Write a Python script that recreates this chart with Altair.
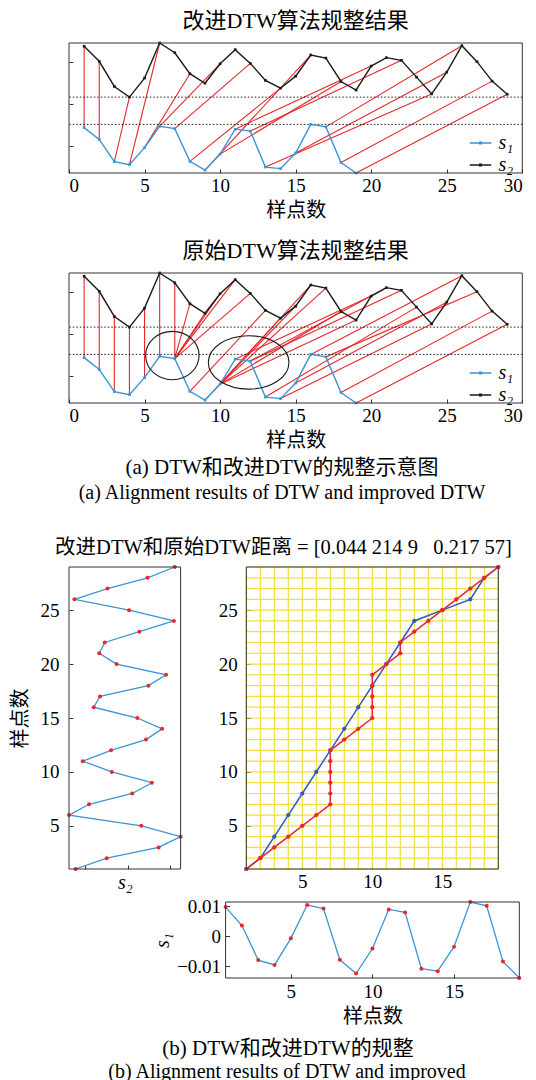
import altair as alt
import pandas as pd

# ---------------- data ----------------
S1 = [0.0098, 0.0036, -0.0080, -0.0096, -0.0007, 0.0105, 0.0093, -0.0079, -0.0125, -0.0041,
      0.0090, 0.0080, -0.0109, -0.0117, -0.0035, 0.0115, 0.0102, -0.0085, -0.0140]
S2 = [0.0132, 0.0053, -0.0079, -0.0135, -0.0035, 0.0149, 0.0098, -0.0012, -0.0062, 0.0040,
      0.0114, 0.0042, -0.0047, -0.0088, -0.0025, 0.0086, 0.0070, -0.0053, -0.0098, 0.0028,
      0.0072, 0.0058, -0.0030, -0.0118, -0.0004, 0.0135, 0.0051, -0.0051, -0.0120]
IMPROVED_I = [1, 2, 3, 4, 5, 6, 7, 8, 9, 10, 11, 12, 13, 15, 17, 18, 19]
IMPROVED_J = [1, 2, 4, 6, 8, 10, 12, 14, 16, 18, 20, 22, 24, 25, 26, 28, 29]
ORIGINAL_I = [1, 2, 3, 4, 5, 6, 7, 7, 7, 7, 7, 7, 8, 9, 10, 10, 10, 10, 10, 11, 12, 12,
              13, 14, 15, 16, 17, 18, 19]
ORIGINAL_J = list(range(1, 30))
S2_SHIFT = 0.0393
ELLIPSE_X = [6.84, 11.89]
ELLIPSE_Y = [0.0109, 0.0073]
TOP_X_TICKS = [0, 5, 10, 15, 20, 25, 30]
TOP_Y_TICKS = [0.0, 0.022, 0.044]
IDX_TICKS = [5, 10, 15, 20, 25]
S1_IDX_TICKS = [5, 10, 15]
S2_VAL_TICKS = [-0.0108, 0.0, 0.0108]
S1_VAL_TICKS = [-0.01, 0.0, 0.01]
SERIES = ["s\u2081", "s\u2082"]

TITLE_A1 = "改进DTW算法规整结果"
TITLE_A2 = "原始DTW算法规整结果"
CAPTION_A = ["(a)  DTW和改进DTW的规整示意图", "(a)  Alignment results of DTW and improved DTW"]
TITLE_B = "改进DTW和原始DTW距离 = [0.044 214 9\u2002 0.217 57]"
CAPTION_B = ["(b)  DTW和改进DTW的规整", "(b)  Alignment results of DTW and improved"]

# ---------------- styles ----------------
FONT = "Liberation Serif, Noto Sans CJK SC"
BLUE = "#3a95d5"
BLACK = "#1a1a1a"
RED = "#e8272b"
PATH_BLUE = "#2f55c6"
YELLOW = "#f1e03a"
FRAME = "#333333"

W_TOP, H_TOP = 453.3, 130
GAP_A = 99.8
H_CAPA = 163.7
W_ROWB, H_ROWB, W_LEFT, X_RIGHT0 = 429.3, 302, 111.6, 177.3
GAP_B = 33
W_BOT, H_BOT, X_BOT0 = 450.3, 76, 156.6
H_CAPB = 98

one = pd.DataFrame({"k": [0]})


def frame(x0, x1, h):
    return alt.Chart(one).mark_rect(fillOpacity=0, stroke=FRAME, strokeWidth=1).encode(
        x=alt.value(x0), x2=alt.value(x1), y=alt.value(0), y2=alt.value(h))


def spacer(h):
    return alt.Chart(one).mark_text(text=" ").encode(
        x=alt.value(0), y=alt.value(0)).properties(width=10, height=h)


# ---------------- (a) top panels ----------------
Y_LO = min(S1)
Y_HI = max(S2) + S2_SHIFT
series_df = pd.concat([
    pd.DataFrame({"idx": range(1, len(S1) + 1), "v": S1, "s": SERIES[0]}),
    pd.DataFrame({"idx": range(1, len(S2) + 1), "v": [v + S2_SHIFT for v in S2], "s": SERIES[1]}),
])
levels_df = pd.DataFrame({"lv": [max(S1), min(S2) + S2_SHIFT]})

LEG_SYMBOL = "M-1,0L1,0M-0.08,-0.08L0.08,-0.08L0.08,0.08L-0.08,0.08Z"


def top_panel(I, J, title, ellipses):
    xs = alt.Scale(domain=[0, 30], nice=False, zero=False)
    ys = alt.Scale(domain=[Y_LO, Y_HI], nice=False, zero=False)
    xax = alt.Axis(values=TOP_X_TICKS, title="样点数", orient="bottom", domain=False, grid=False,
                   tickSize=4, offset=-4, labelPadding=3, titlePadding=5)
    yax = alt.Axis(values=TOP_Y_TICKS, labels=False, title=None, orient="left", domain=False,
                   grid=False, tickSize=4, offset=-4)
    links = pd.DataFrame({"i": I, "j": J,
                          "yi": [S1[i - 1] for i in I],
                          "yj": [S2[j - 1] + S2_SHIFT for j in J]})
    color_scale = alt.Scale(domain=SERIES, range=[BLUE, BLACK])
    layers = [
        alt.Chart(links).mark_rule(color=RED, strokeWidth=1.1).encode(
            x=alt.X("i:Q", scale=xs, axis=xax), x2="j:Q",
            y=alt.Y("yi:Q", scale=ys, axis=yax), y2="yj:Q"),
        alt.Chart(levels_df).mark_rule(color=BLACK, strokeWidth=1, strokeDash=[1.5, 2]).encode(
            y=alt.Y("lv:Q", scale=ys, axis=yax)),
        alt.Chart(series_df).mark_line(strokeWidth=1.4).encode(
            x=alt.X("idx:Q", scale=xs, axis=xax),
            y=alt.Y("v:Q", scale=ys, axis=yax),
            color=alt.Color("s:N", scale=color_scale, legend=alt.Legend(
                title=None, orient="none", legendX=399.5, legendY=88, padding=0,
                symbolType=LEG_SYMBOL, symbolSize=467, symbolStrokeWidth=1.5,
                labelFont=FONT, labelFontSize=20, labelFontStyle="italic",
                labelColor="#000", labelOffset=6, rowPadding=0))),
        alt.Chart(series_df).mark_square(size=7, opacity=1).encode(
            x=alt.X("idx:Q", scale=xs, axis=xax),
            y=alt.Y("v:Q", scale=ys, axis=yax),
            color=alt.Color("s:N", scale=color_scale, legend=None)),
    ]
    if ellipses:
        for k, (rx, ry) in enumerate([(26.7, 24.2), (40.3, 26.7)]):
            r = ry / rx
            path = f"M-1,0A1,{r:.4f},0,1,1,1,0A1,{r:.4f},0,1,1,-1,0Z"
            edf = pd.DataFrame({"ex": [ELLIPSE_X[k]], "ey": [ELLIPSE_Y[k]]})
            layers.append(alt.Chart(edf).mark_point(
                shape=path, size=(2 * rx) ** 2, filled=False, opacity=1,
                stroke=BLACK, strokeWidth=1.1).encode(
                x=alt.X("ex:Q", scale=xs, axis=xax), y=alt.Y("ey:Q", scale=ys, axis=yax)))
    layers.append(frame(0, W_TOP, H_TOP))
    return alt.layer(*layers).properties(
        width=W_TOP, height=H_TOP,
        title=alt.TitleParams(title, anchor="middle", offset=7, font=FONT, fontSize=22,
                              fontWeight="normal", color="#000"))


panel1 = top_panel(IMPROVED_I, IMPROVED_J, TITLE_A1, False)
panel2 = top_panel(ORIGINAL_I, ORIGINAL_J, TITLE_A2, True)

# ---------------- caption (a) + title (b) ----------------
def text_layer(txt, x, y, size):
    return alt.Chart(pd.DataFrame({"t": [txt]})).mark_text(
        font=FONT, fontSize=size, align="center", baseline="middle", color="#000").encode(
        text="t:N", x=alt.value(x), y=alt.value(y))


cap_a = alt.layer(
    text_layer(CAPTION_A[0], 213, 64.7, 21),
    text_layer(CAPTION_A[1], 213, 89.7, 20),
    text_layer(TITLE_B, 214.5, 144.7, 20.5),
).properties(width=W_TOP, height=H_CAPA)

# ---------------- (b) warping-path row ----------------
s2_df = pd.DataFrame({"idx": range(1, len(S2) + 1), "v": S2})
s1_df = pd.DataFrame({"idx": range(1, len(S1) + 1), "v": S1})

yl = alt.Scale(domain=[1, len(S2)], nice=False, zero=False)
xl = alt.Scale(domain=[min(S2), max(S2)], reverse=True, nice=False, zero=False, range=[0, W_LEFT])
xl_ax = alt.Axis(values=S2_VAL_TICKS, labels=False, title=SERIES[1], titleFontStyle="italic",
                 orient="bottom", domain=False, grid=False, tickSize=4, offset=-4, titlePadding=3)
yl_ax = alt.Axis(values=IDX_TICKS, title="样点数", orient="left", domain=False, grid=False,
                 tickSize=4, offset=-4, labelPadding=10, titlePadding=10)
left_group = alt.layer(
    alt.Chart(s2_df).mark_line(color=BLUE, strokeWidth=1.3).encode(
        x=alt.X("v:Q", scale=xl, axis=xl_ax), y=alt.Y("idx:Q", scale=yl, axis=yl_ax),
        order="idx:Q"),
    alt.Chart(s2_df).mark_circle(color=RED, size=16, opacity=1).encode(
        x=alt.X("v:Q", scale=xl, axis=xl_ax), y=alt.Y("idx:Q", scale=yl, axis=yl_ax)),
)

xr = alt.Scale(domain=[1, len(S1)], nice=False, zero=False, range=[X_RIGHT0, W_ROWB])
yr = alt.Scale(domain=[1, len(S2)], nice=False, zero=False)
xr_ax = alt.Axis(values=S1_IDX_TICKS, title=None, orient="bottom", domain=False, grid=False,
                 tickSize=4, offset=-4, labelPadding=3)
yr_ax = alt.Axis(values=IDX_TICKS, title=None, orient="left", domain=False, grid=False,
                 tickSize=4, offset=-(X_RIGHT0 + 4), labelPadding=9)
grid_v = pd.DataFrame({"g": range(1, len(S1) + 1)})
grid_h = pd.DataFrame({"g": range(1, len(S2) + 1), "a": 1, "b": len(S1)})
imp_df = pd.DataFrame({"i": IMPROVED_I, "j": IMPROVED_J, "step": range(len(IMPROVED_I))})
org_df = pd.DataFrame({"i": ORIGINAL_I, "j": ORIGINAL_J, "step": range(len(ORIGINAL_I))})


def path_layers(df, color):
    return [
        alt.Chart(df).mark_line(color=color, strokeWidth=1.5).encode(
            x=alt.X("i:Q", scale=xr, axis=xr_ax), y=alt.Y("j:Q", scale=yr, axis=yr_ax),
            order="step:Q"),
        alt.Chart(df).mark_circle(color=color, size=18, opacity=1).encode(
            x=alt.X("i:Q", scale=xr, axis=xr_ax), y=alt.Y("j:Q", scale=yr, axis=yr_ax)),
    ]


right_group = alt.layer(
    alt.Chart(grid_v).mark_rule(color=YELLOW, strokeWidth=1.2).encode(
        x=alt.X("g:Q", scale=xr, axis=xr_ax)),
    alt.Chart(grid_h).mark_rule(color=YELLOW, strokeWidth=1.2).encode(
        y=alt.Y("g:Q", scale=yr, axis=yr_ax), x=alt.X("a:Q", scale=xr, axis=xr_ax), x2="b:Q"),
    *path_layers(imp_df, PATH_BLUE),
    *path_layers(org_df, RED),
)

row_b = alt.layer(
    left_group, right_group,
    frame(0, W_LEFT, H_ROWB), frame(X_RIGHT0, W_ROWB, H_ROWB),
).resolve_scale(x="independent", y="independent").properties(width=W_ROWB, height=H_ROWB)

# ---------------- (b) bottom s1 panel ----------------
xb = alt.Scale(domain=[1, len(S1)], nice=False, zero=False, range=[X_BOT0, W_BOT])
yb = alt.Scale(domain=[min(S1), max(S1)], nice=False, zero=False)
xb_ax = alt.Axis(values=S1_IDX_TICKS, title="样点数", orient="bottom", domain=False, grid=False,
                 tickSize=4, offset=-4, labelPadding=4, titlePadding=5)
yb_ax = alt.Axis(values=S1_VAL_TICKS, format=".2~f", title=SERIES[0], titleFontStyle="italic",
                 orient="left", domain=False, grid=False, tickSize=4, offset=-(X_BOT0 + 4),
                 labelPadding=5, titlePadding=4)
row_bot = alt.layer(
    alt.Chart(s1_df).mark_line(color=BLUE, strokeWidth=1.3).encode(
        x=alt.X("idx:Q", scale=xb, axis=xb_ax), y=alt.Y("v:Q", scale=yb, axis=yb_ax)),
    alt.Chart(s1_df).mark_circle(color=RED, size=16, opacity=1).encode(
        x=alt.X("idx:Q", scale=xb, axis=xb_ax), y=alt.Y("v:Q", scale=yb, axis=yb_ax)),
    frame(X_BOT0, W_BOT, H_BOT),
).properties(width=W_BOT, height=H_BOT)

cap_b = alt.layer(
    text_layer(CAPTION_B[0], 219, 71, 21),
    text_layer(CAPTION_B[1], 218, 94, 20),
).properties(width=W_TOP, height=H_CAPB)

chart = alt.vconcat(
    panel1, spacer(GAP_A), panel2, cap_a, row_b, spacer(GAP_B), row_bot, cap_b,
    spacing=0, bounds="flush",
).resolve_scale(color="independent").resolve_legend(color="independent").properties(
    padding={"left": 2, "top": 2, "right": 0, "bottom": 0}
).configure_view(strokeWidth=0).configure_axis(
    labelFont=FONT, titleFont=FONT, labelFontSize=19, titleFontSize=20,
    labelColor="#000", titleColor="#000", tickColor=FRAME, tickWidth=1,
    titleFontWeight="normal",
)

chart.save("out.html", embed_options={"renderer": "svg", "actions": False})
